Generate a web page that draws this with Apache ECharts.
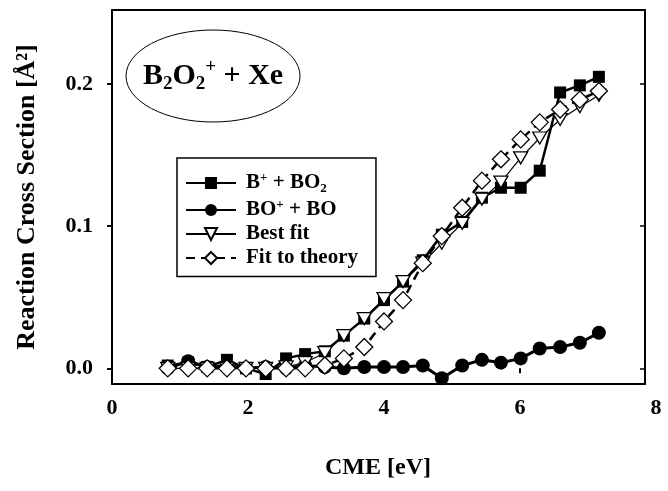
<!DOCTYPE html>
<html>
<head>
<meta charset="utf-8">
<script src="https://cdn.jsdelivr.net/npm/echarts@6/dist/echarts.min.js"></script>
<style>
  html, body { margin: 0; padding: 0; background: #fff; }
  #chart { width: 668px; height: 491px; }
</style>
</head>
<body>
<div id="chart"></div>
<script>
// Collision energy (CME, eV) of each measured point
const cme = [0.82, 1.12, 1.40, 1.69, 1.97, 2.26, 2.56, 2.84, 3.13, 3.41, 3.71, 4.00,
             4.28, 4.57, 4.85, 5.15, 5.44, 5.72, 6.01, 6.29, 6.59, 6.88, 7.16];

// Reaction cross sections, Å^2
const bPlusBO2 = [0.002, 0.004, 0.001, 0.006, 0.000, -0.004, 0.007, 0.010, 0.012, 0.023, 0.035, 0.048,
                  0.061, 0.076, 0.094, 0.103, 0.120, 0.127, 0.127, 0.139, 0.194, 0.199, 0.205];
const boPlusBO = [0.000, 0.005, 0.001, 0.002, 0.000, 0.001, 0.000, 0.002, 0.001, 0.000, 0.001, 0.001,
                  0.001, 0.002, -0.007, 0.002, 0.006, 0.004, 0.007, 0.014, 0.015, 0.018, 0.025];
const bestFit = [0.000, 0.000, 0.000, 0.000, 0.000, 0.000, 0.001, 0.004, 0.011, 0.023, 0.035, 0.049,
                 0.061, 0.074, 0.088, 0.102, 0.119, 0.131, 0.148, 0.162, 0.175, 0.184, 0.192];
const theoryFit = [0.000, 0.000, 0.000, 0.000, 0.000, 0.000, 0.000, 0.000, 0.002, 0.007, 0.015, 0.033,
                   0.048, 0.074, 0.093, 0.113, 0.132, 0.147, 0.161, 0.173, 0.182, 0.189, 0.195];

const seriesNames = ['B+ + BO2', 'BO+ + BO', 'Best fit', 'Fit to theory'];
const xTickValues = [0, 2, 4, 6, 8];
const xTickMarks = [0, 2, 4, 6];
const yTickValues = [0, 0.1, 0.2];

const serif = "'Liberation Serif', 'Times New Roman', serif";

// Legend labels with super/subscripts
const legendRich = {
  'B+ + BO2': '{g|}{t|B}{sp|+}{t| + BO}{sb|2}',
  'BO+ + BO': '{g|}{t|BO}{sp|+}{t| + BO}',
  'Best fit': '{g|}{t|Best fit}',
  'Fit to theory': '{g|}{t|Fit to theory}'
};

const richStyles = (base, small, lh) => ({
  g:  { width: 5 },
  t:  { fontFamily: serif, fontWeight: 'bold', fontSize: base, color: '#000', lineHeight: lh },
  sp: { fontFamily: serif, fontWeight: 'bold', fontSize: small, color: '#000', verticalAlign: 'top', lineHeight: small },
  sb: { fontFamily: serif, fontWeight: 'bold', fontSize: small, color: '#000', verticalAlign: 'bottom', lineHeight: small }
});

const pts = arr => cme.map((x, i) => [x, arr[i]]);

const chart = echarts.init(document.getElementById('chart'), null, { renderer: 'canvas' });

const plotGrid = { left: 112, right: 12, top: 10, bottom: 107 };
const frameGrid = { left: 112, right: 23, top: 10, bottom: 107 };
const yMin = -0.011, yMax = 0.252;

const axisText = { fontFamily: serif, fontWeight: 'bold', fontSize: 22, color: '#000' };
const frameLine = { show: true, onZero: false, lineStyle: { color: '#000', width: 2 } };

chart.setOption({
  animation: false,
  backgroundColor: '#fff',
  grid: [plotGrid, frameGrid],
  xAxis: [
    {
      gridIndex: 0, type: 'value', min: 0, max: 8,
      axisLine: { show: false },
      splitLine: { show: false },
      axisTick: { show: true, customValues: xTickMarks, length: 5, lineStyle: { color: '#000', width: 2 } },
      axisLabel: Object.assign({ customValues: xTickValues, margin: 13 }, axisText),
      name: 'CME [eV]', nameLocation: 'middle', nameGap: 72,
      nameTextStyle: { fontFamily: serif, fontWeight: 'bold', fontSize: 24, color: '#000', padding: [0, 12, 0, 0] }
    },
    {
      gridIndex: 1, type: 'value', min: 0, max: 1, position: 'bottom',
      axisLine: frameLine,
      axisTick: { show: false }, axisLabel: { show: false }, splitLine: { show: false }
    },
    {
      gridIndex: 1, type: 'value', min: 0, max: 1, position: 'top',
      axisLine: frameLine,
      axisTick: { show: false }, axisLabel: { show: false }, splitLine: { show: false }
    }
  ],
  yAxis: [
    {
      gridIndex: 0, type: 'value', min: yMin, max: yMax,
      axisLine: { show: false },
      splitLine: { show: false },
      axisTick: { show: true, customValues: yTickValues, length: 5, lineStyle: { color: '#000', width: 2 } },
      axisLabel: Object.assign({ customValues: yTickValues, margin: 19, formatter: v => v.toFixed(1) }, axisText),
      name: 'Reaction Cross Section [Å²]', nameLocation: 'middle', nameGap: 72,
      nameTextStyle: { fontFamily: serif, fontWeight: 'bold', fontSize: 26, color: '#000' }
    },
    {
      gridIndex: 1, type: 'value', min: yMin, max: yMax, position: 'left',
      axisLine: frameLine,
      axisTick: { show: false }, axisLabel: { show: false }, splitLine: { show: false }
    },
    {
      gridIndex: 1, type: 'value', min: yMin, max: yMax, position: 'right',
      axisLine: frameLine,
      axisTick: { show: true, inside: true, customValues: yTickValues, length: 5, lineStyle: { color: '#000', width: 1.5 } },
      axisLabel: { show: false }, splitLine: { show: false }
    }
  ],
  legend: {
    orient: 'vertical',
    left: 177, top: 158,
    data: seriesNames,
    selectedMode: false,
    itemWidth: 50, itemHeight: 15, itemGap: 3,
    padding: [13, 18, 8, 8],
    borderColor: '#000', borderWidth: 1.5,
    backgroundColor: '#fff',
    formatter: n => legendRich[n],
    textStyle: { rich: richStyles(21, 13, 24) }
  },
  graphic: [
    {
      type: 'ellipse', z: 10,
      shape: { cx: 213, cy: 76, rx: 87, ry: 46 },
      style: { fill: '#fff', stroke: '#000', lineWidth: 1 }
    },
    {
      type: 'text', z: 11, x: 213, y: 76,
      style: {
        text: '{t|B}{sb|2}{t|O}{sb|2}{sp|+}{t| + Xe}',
        rich: richStyles(30, 19, 36),
        align: 'center', verticalAlign: 'middle'
      }
    }
  ],
  series: [
    {
      name: seriesNames[0], type: 'line', xAxisIndex: 0, yAxisIndex: 0,
      data: pts(bPlusBO2), clip: false, z: 2,
      symbol: 'rect', symbolSize: 12,
      itemStyle: { color: '#000' },
      lineStyle: { color: '#000', width: 2.5 }
    },
    {
      name: seriesNames[1], type: 'line', xAxisIndex: 0, yAxisIndex: 0,
      data: pts(boPlusBO), clip: false, z: 2,
      symbol: 'circle', symbolSize: 14,
      itemStyle: { color: '#000' },
      lineStyle: { color: '#000', width: 3 }
    },
    {
      name: seriesNames[2], type: 'line', xAxisIndex: 0, yAxisIndex: 0,
      data: pts(bestFit), clip: false, z: 3,
      symbol: 'triangle', symbolRotate: 180, symbolSize: [14, 12],
      itemStyle: { color: '#fff', borderColor: '#000', borderWidth: 1.3 },
      lineStyle: { color: '#000', width: 1.2 }
    },
    {
      name: seriesNames[3], type: 'line', xAxisIndex: 0, yAxisIndex: 0,
      data: pts(theoryFit), clip: false, z: 4,
      symbol: 'diamond', symbolSize: [17, 17],
      itemStyle: { color: '#fff', borderColor: '#000', borderWidth: 1.3 },
      lineStyle: { color: '#000', width: 2.5, type: [9, 6] }
    }
  ]
});
</script>
</body>
</html>
